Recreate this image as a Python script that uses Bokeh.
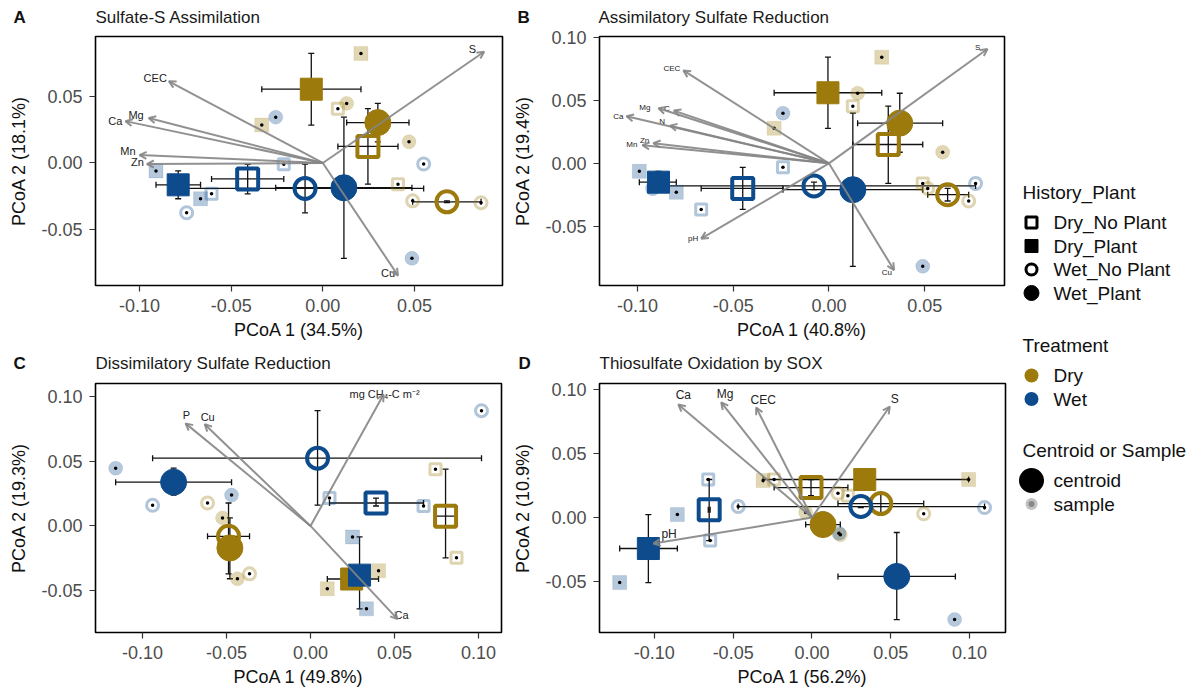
from bokeh.plotting import figure
from bokeh.models import (ColumnDataSource, Range1d, FixedTicker, PrintfTickFormatter,
                          Whisker, TeeHead, Arrow, OpenHead)
from bokeh.layouts import row, column
from bokeh.embed import file_html
from bokeh.resources import INLINE
from bokeh.core.properties import value

FONT = "Liberation Sans"
TRT_COLOR = {"Dry": "#9C7A0B", "Wet": "#0D4B8C"}
MARKER = {"Dry_No Plant": "square", "Dry_Plant": "square", "Wet_No Plant": "circle", "Wet_Plant": "circle"}
HOLLOW = {"Dry_No Plant": True, "Dry_Plant": False, "Wet_No Plant": True, "Wet_Plant": False}
ARROW_COL = "#858585"

# ---------------- Panel titles ----------------
PANEL_LETTERS = ["A", "B", "C", "D"]
PANEL_TITLES = ["Sulfate-S Assimilation", "Assimilatory Sulfate Reduction",
                "Dissimilatory Sulfate Reduction", "Thiosulfate Oxidation by SOX"]

# ---------------- Panel A : Sulfate-S Assimilation ----------------
A_cent_group = ["Dry_No Plant", "Dry_Plant", "Wet_No Plant", "Wet_Plant",
                "Dry_No Plant", "Dry_Plant", "Wet_No Plant", "Wet_Plant"]
A_cent_trt = ["Dry", "Dry", "Dry", "Dry", "Wet", "Wet", "Wet", "Wet"]
A_cent_x = [0.0246, -0.0063, 0.0677, 0.0300, -0.0410, -0.0789, -0.0097, 0.0115]
A_cent_y = [0.0125, 0.0557, -0.0293, 0.0305, -0.0120, -0.0165, -0.0192, -0.0187]
A_cent_xlo = [0.0082, -0.0333, 0.0490, 0.0130, -0.0607, -0.0910, -0.0743, -0.0257]
A_cent_xhi = [0.0410, 0.0208, 0.0863, 0.0470, -0.0213, -0.0667, 0.0550, 0.0486]
A_cent_ylo = [-0.0160, 0.0286, -0.0300, 0.0160, -0.0233, -0.0270, -0.0376, -0.0720]
A_cent_yhi = [0.0410, 0.0827, -0.0286, 0.0450, -0.0010, -0.0060, -0.0008, 0.0346]
A_samp_group = ["Dry_No Plant", "Dry_No Plant", "Dry_Plant", "Dry_Plant", "Wet_No Plant", "Wet_No Plant",
                "Wet_Plant", "Wet_Plant", "Dry_No Plant", "Dry_No Plant", "Dry_Plant", "Dry_Plant",
                "Wet_No Plant", "Wet_No Plant", "Wet_Plant", "Wet_Plant"]
A_samp_trt = ["Dry"] * 8 + ["Wet"] * 8
A_samp_x = [0.0082, 0.0410, -0.0333, 0.0208, 0.0490, 0.0863, 0.0130, 0.0470,
            -0.0213, -0.0607, -0.0910, -0.0667, -0.0743, 0.0550, -0.0257, 0.0486]
A_samp_y = [0.0410, -0.0160, 0.0286, 0.0827, -0.0286, -0.0300, 0.0450, 0.0160,
            -0.0010, -0.0233, -0.0060, -0.0270, -0.0376, -0.0008, 0.0346, -0.0720]
A_arrow_label = ["CEC", "Ca", "Mg", "Mn", "Zn", "S", "Cu"]
A_arrow_x = [-0.0840, -0.1077, -0.0950, -0.1000, -0.0960, 0.0880, 0.0410]
A_arrow_y = [0.0617, 0.0316, 0.0340, 0.0060, -0.0008, 0.0840, -0.0850]

# ---------------- Panel B : Assimilatory Sulfate Reduction ----------------
B_cent_group = A_cent_group
B_cent_trt = A_cent_trt
B_cent_x = [0.0310, -0.0005, 0.0620, 0.0370, -0.0450, -0.0890, -0.0078, 0.0125]
B_cent_y = [0.0150, 0.0562, -0.0250, 0.0320, -0.0200, -0.0150, -0.0180, -0.0210]
B_cent_xlo = [0.0125, -0.0286, 0.0516, 0.0150, -0.0667, -0.0990, -0.0920, -0.0240]
B_cent_xhi = [0.0490, 0.0276, 0.0730, 0.0594, -0.0240, -0.0797, 0.0766, 0.0490]
B_cent_ylo = [-0.0160, 0.0279, -0.0300, 0.0088, -0.0367, -0.0231, -0.0210, -0.0820]
B_cent_yhi = [0.0455, 0.0845, -0.0200, 0.0558, -0.0032, -0.0064, -0.0150, 0.0399]
B_samp_group = A_samp_group
B_samp_trt = A_samp_trt
B_samp_x = [0.0125, 0.0490, -0.0286, 0.0276, 0.0516, 0.0730, 0.0150, 0.0594,
            -0.0240, -0.0667, -0.0990, -0.0797, -0.0920, 0.0766, -0.0240, 0.0490]
B_samp_y = [0.0455, -0.0160, 0.0279, 0.0845, -0.0200, -0.0300, 0.0558, 0.0088,
            -0.0032, -0.0367, -0.0064, -0.0231, -0.0200, -0.0160, 0.0399, -0.0820]
B_arrow_label = ["CEC", "Ca", "Mg", "C", "N", "Mn", "Zn", "pH", "S", "Cu"]
B_arrow_x = [-0.0760, -0.1057, -0.0890, -0.0810, -0.0830, -0.0974, -0.0917, -0.0667, 0.0828, 0.0340]
B_arrow_y = [0.0740, 0.0375, 0.0439, 0.0420, 0.0300, 0.0144, 0.0160, -0.0600, 0.0910, -0.0850]

# ---------------- Panel C : Dissimilatory Sulfate Reduction ----------------
C_cent_group = A_cent_group
C_cent_trt = A_cent_trt
C_cent_x = [0.0804, 0.0245, -0.0488, -0.0480, 0.0390, 0.0292, 0.0042, -0.0815]
C_cent_y = [0.0075, -0.0410, -0.0080, -0.0170, 0.0177, -0.0380, 0.0523, 0.0338]
C_cent_xlo = [0.0744, 0.0100, -0.0613, -0.0524, 0.0113, 0.0250, -0.0940, -0.1160]
C_cent_xhi = [0.0869, 0.0405, -0.0363, -0.0435, 0.0673, 0.0333, 0.1018, -0.0470]
C_cent_ylo = [-0.0246, -0.0485, -0.0370, -0.0408, 0.0154, -0.0640, 0.0160, 0.0238]
C_cent_yhi = [0.0438, -0.0346, 0.0177, 0.0062, 0.0215, -0.0085, 0.0890, 0.0446]
C_samp_group = A_samp_group
C_samp_trt = A_samp_trt
C_samp_x = [0.0744, 0.0869, 0.0100, 0.0405, -0.0613, -0.0363, -0.0524, -0.0435,
            0.0113, 0.0673, 0.0250, 0.0333, -0.0940, 0.1018, -0.1160, -0.0470]
C_samp_y = [0.0438, -0.0246, -0.0485, -0.0346, 0.0177, -0.0370, 0.0062, -0.0408,
            0.0215, 0.0154, -0.0085, -0.0640, 0.0160, 0.0890, 0.0446, 0.0238]
C_arrow_label = ["P", "Cu", "mg CH\u2084-C m\u207b\u00b2", "Ca"]
C_arrow_x = [-0.0744, -0.0630, 0.0435, 0.0518]
C_arrow_y = [0.0792, 0.0785, 0.1015, -0.0720]

# ---------------- Panel D : Thiosulfate Oxidation by SOX ----------------
D_cent_group = A_cent_group
D_cent_trt = A_cent_trt
D_cent_x = [-0.0006, 0.0335, 0.0437, 0.0070, -0.0652, -0.1038, 0.0310, 0.0538]
D_cent_y = [0.0234, 0.0297, 0.0109, -0.0055, 0.0060, -0.0242, 0.0086, -0.0460]
D_cent_xlo = [-0.0240, -0.0310, 0.0165, -0.0040, -0.0658, -0.1220, -0.0468, 0.0165]
D_cent_xhi = [0.0228, 0.0994, 0.0709, 0.0180, -0.0646, -0.0854, 0.1095, 0.0910]
D_cent_ylo = [0.0170, 0.0289, 0.0030, -0.0135, -0.0180, -0.0508, 0.0078, -0.0797]
D_cent_yhi = [0.0297, 0.0297, 0.0190, 0.0040, 0.0297, 0.0023, 0.0086, -0.0117]
D_samp_group = A_samp_group
D_samp_trt = A_samp_trt
D_samp_x = [-0.0240, 0.0228, -0.0310, 0.0994, 0.0165, 0.0709, -0.0040, 0.0180,
            -0.0658, -0.0646, -0.1220, -0.0854, -0.0468, 0.1095, 0.0905, 0.0171]
D_samp_y = [0.0297, 0.0170, 0.0289, 0.0297, 0.0190, 0.0030, 0.0040, -0.0135,
            0.0297, -0.0180, -0.0508, 0.0023, 0.0086, 0.0078, -0.0797, -0.0123]
D_arrow_label = ["Ca", "Mg", "CEC", "pH", "S"]
D_arrow_x = [-0.0848, -0.0576, -0.0354, -0.1006, 0.0494]
D_arrow_y = [0.0883, 0.0900, 0.0860, -0.0203, 0.0867]

# tick positions
A_xticks = [-0.10, -0.05, 0.00, 0.05]
A_yticks = [-0.05, 0.00, 0.05]
B_xticks = [-0.10, -0.05, 0.00, 0.05]
B_yticks = [-0.05, 0.00, 0.05, 0.10]
C_xticks = [-0.10, -0.05, 0.00, 0.05, 0.10]
C_yticks = [-0.05, 0.00, 0.05, 0.10]
D_xticks = [-0.10, -0.05, 0.00, 0.05, 0.10]
D_yticks = [-0.05, 0.00, 0.05, 0.10]

# legend entries
LEG_HIST = ["Dry_No Plant", "Dry_Plant", "Wet_No Plant", "Wet_Plant"]
LEG_TRT = ["Dry", "Wet"]
LEG_CS = ["centroid", "sample"]

# ---- label placement styles (align, dx, dy in px) ----
A_lab_style = [("right", -2, -3), ("right", -3, 0), ("right", -5, -3), ("right", -4, -4),
               ("right", -3, -2), ("right", -8, -3), ("right", -3, -3)]
B_lab_style = [("right", -3, -2), ("right", -3, 0), ("right", -8, -1), ("right", -4, -2),
               ("right", -5, -4), ("right", -5, -1), ("right", -4, -3), ("right", -3, 0),
               ("right", -7, -2), ("right", -2, 2)]
C_lab_style = [("center", 1, -8), ("center", 3, -7), ("center", 1, -1), ("center", 4, -4)]
D_lab_style = [("center", 5, -9), ("center", 4, -8), ("center", 7, -7), ("left", 8, -10),
               ("left", 1, -8)]


def make_panel(xlab, ylab, xr, yr, xticks, yticks,
               cg, ct, cx, cy, cxlo, cxhi, cylo, cyhi,
               sg, st, sx, sy, alab, ax, ay, lab_style, arrow_fs,
               width, height, borders):
    left, right, top, bottom = borders
    p = figure(width=width, height=height, x_range=Range1d(*xr), y_range=Range1d(*yr),
               output_backend="svg", toolbar_location=None,
               min_border_left=left, min_border_right=right, min_border_top=top,
               min_border_bottom=bottom)
    p.grid.visible = False
    p.outline_line_color = "black"
    p.outline_line_width = 1.6
    p.background_fill_color = "white"
    p.border_fill_color = "white"
    for ax_, ticks in ((p.xaxis[0], xticks), (p.yaxis[0], yticks)):
        ax_.ticker = FixedTicker(ticks=ticks)
        ax_.formatter = PrintfTickFormatter(format="%.2f")
        ax_.axis_line_color = None
        ax_.major_tick_line_color = "#333333"
        ax_.major_tick_line_width = 1.2
        ax_.major_tick_out = 6
        ax_.major_tick_in = 0
        ax_.minor_tick_line_color = None
        ax_.major_label_text_font = FONT
        ax_.major_label_text_font_size = "18px"
        ax_.major_label_text_color = "#4d4d4d"
        ax_.major_label_standoff = 7
        ax_.axis_label_text_font = FONT
        ax_.axis_label_text_font_size = "18px"
        ax_.axis_label_text_font_style = "normal"
        ax_.axis_label_text_color = "#111111"
    p.xaxis.axis_label = xlab
    p.yaxis.axis_label = ylab
    p.xaxis.axis_label_standoff = 5
    p.yaxis.axis_label_standoff = 9

    # error bars
    ebar = ColumnDataSource(dict(x=cx, y=cy, xlo=cxlo, xhi=cxhi, ylo=cylo, yhi=cyhi))
    for dim, base, lo, hi in (("width", "y", "xlo", "xhi"), ("height", "x", "ylo", "yhi")):
        w = Whisker(source=ebar, base=base, lower=lo, upper=hi, dimension=dim,
                    line_color="#111111", line_width=1.3, level="underlay",
                    lower_head=TeeHead(size=6, line_color="#111111", line_width=1.3),
                    upper_head=TeeHead(size=6, line_color="#111111", line_width=1.3))
        p.add_layout(w)

    # samples
    for hollow in (False, True):
        idx = [i for i in range(len(sx)) if HOLLOW[sg[i]] == hollow]
        src = ColumnDataSource(dict(
            x=[sx[i] for i in idx], y=[sy[i] for i in idx],
            marker=[MARKER[sg[i]] for i in idx],
            color=[TRT_COLOR[st[i]] for i in idx],
            size=[11 if MARKER[sg[i]] == "square" else 12 for i in idx]))
        if hollow:
            p.scatter("x", "y", source=src, marker="marker", size="size", fill_color=None,
                      line_color="color", line_alpha=0.32, line_width=3)
        else:
            p.scatter("x", "y", source=src, marker="marker", size=14, fill_color="color",
                      fill_alpha=0.3, line_color="color", line_alpha=0.12, line_width=1)
    p.scatter(sx, sy, marker="circle", size=3.5, fill_color="black", line_color=None)

    # centroids
    for i in range(len(cx)):
        g = cg[i]
        col = TRT_COLOR[ct[i]]
        if HOLLOW[g]:
            p.scatter([cx[i]], [cy[i]], marker=MARKER[g], size=21, fill_color=None,
                      line_color=col, line_width=4)
        else:
            p.scatter([cx[i]], [cy[i]], marker=MARKER[g],
                      size=22 if MARKER[g] == "square" else 26,
                      fill_color=col, line_color=col, line_width=1)

    # environmental arrows
    asrc = ColumnDataSource(dict(x0=[0.0] * len(ax), y0=[0.0] * len(ay), x1=ax, y1=ay))
    p.add_layout(Arrow(source=asrc, x_start="x0", y_start="y0", x_end="x1", y_end="y1",
                       line_color=ARROW_COL, line_width=2, line_alpha=0.9,
                       end=OpenHead(size=7, line_color=ARROW_COL, line_width=2, line_alpha=0.9)))
    for lab, xv, yv, (al, dx, dy) in zip(alab, ax, ay, lab_style):
        p.text([xv], [yv], text=[lab], text_font=value(FONT), text_font_size=arrow_fs,
               text_color="#222222", text_align=al, text_baseline="middle",
               x_offset=dx, y_offset=dy)
    return p


def make_header(width, height, y_top, letter_x, title_x, letters, titles, y_mid):
    h = figure(width=width, height=height, x_range=Range1d(0, width),
               y_range=Range1d(y_top + height, y_top), output_backend="svg",
               toolbar_location=None, min_border=0)
    h.axis.visible = False
    h.grid.visible = False
    h.outline_line_color = None
    h.text(letter_x, [y_mid] * len(letters), text=letters, text_font=value(FONT),
           text_font_size="17px", text_font_style="bold", text_color="#111111",
           text_baseline="middle")
    h.text(title_x, [y_mid] * len(titles), text=titles, text_font=value(FONT),
           text_font_size="17px", text_color="#1a1a1a", text_baseline="middle")
    return h


# layout: header rows of 26 / 30 px, panel rows below them
pA = make_panel("PCoA 1 (34.5%)", "PCoA 2 (18.1%)",
                (-0.124, 0.098), (-0.0925, 0.0955), A_xticks, A_yticks,
                A_cent_group, A_cent_trt, A_cent_x, A_cent_y, A_cent_xlo, A_cent_xhi, A_cent_ylo, A_cent_yhi,
                A_samp_group, A_samp_trt, A_samp_x, A_samp_y,
                A_arrow_label, A_arrow_x, A_arrow_y, A_lab_style, "11px",
                510, 319, (95, 8, 9, 60))
pB = make_panel("PCoA 1 (40.8%)", "PCoA 2 (19.4%)",
                (-0.1198, 0.0917), (-0.0973, 0.101), B_xticks, B_yticks,
                B_cent_group, B_cent_trt, B_cent_x, B_cent_y, B_cent_xlo, B_cent_xhi, B_cent_ylo, B_cent_yhi,
                B_samp_group, B_samp_trt, B_samp_x, B_samp_y,
                B_arrow_label, B_arrow_x, B_arrow_y, B_lab_style, "8px",
                505, 319, (88, 11, 10, 60))
pC = make_panel("PCoA 1 (49.8%)", "PCoA 2 (19.3%)",
                (-0.128, 0.1137), (-0.0823, 0.110), C_xticks, C_yticks,
                C_cent_group, C_cent_trt, C_cent_x, C_cent_y, C_cent_xlo, C_cent_xhi, C_cent_ylo, C_cent_yhi,
                C_samp_group, C_samp_trt, C_samp_x, C_samp_y,
                C_arrow_label, C_arrow_x, C_arrow_y, C_lab_style, "11px",
                510, 315, (95, 9, 7, 58))
pD = make_panel("PCoA 1 (56.2%)", "PCoA 2 (10.9%)",
                (-0.1348, 0.1228), (-0.0898, 0.1047), D_xticks, D_yticks,
                D_cent_group, D_cent_trt, D_cent_x, D_cent_y, D_cent_xlo, D_cent_xhi, D_cent_ylo, D_cent_yhi,
                D_samp_group, D_samp_trt, D_samp_x, D_samp_y,
                D_arrow_label, D_arrow_x, D_arrow_y, D_lab_style, "12px",
                505, 315, (88, 10, 8, 58))

hdr1 = make_header(1015, 26, 0, [13, 517], [95, 598], PANEL_LETTERS[:2], PANEL_TITLES[:2], 17)
hdr2 = make_header(1015, 30, 345, [13, 518], [95, 599], PANEL_LETTERS[2:], PANEL_TITLES[2:], 363)

# ---------------- legend panel (pixel coordinate space) ----------------
leg = figure(width=175, height=690, x_range=Range1d(1015, 1190), y_range=Range1d(690, 0),
             output_backend="svg", toolbar_location=None, min_border=0)
leg.axis.visible = False
leg.grid.visible = False
leg.outline_line_color = None

TITLE_X, SYM_X, TXT_X = 1022, 1031, 1053
sections = [("History_Plant", 192, LEG_HIST), ("Treatment", 345, LEG_TRT),
            ("Centroid or Sample", 450, LEG_CS)]
for title, ty, items in sections:
    leg.text([TITLE_X], [ty], text=[title], text_font=value(FONT), text_font_size="19px",
             text_color="#111111", text_baseline="middle")
    ys = [ty + 30 + 23.5 * k for k in range(len(items))]
    leg.text([TXT_X] * len(items), ys, text=items, text_font=value(FONT),
             text_font_size="19px", text_color="#111111", text_baseline="middle")
    for name, yy in zip(items, ys):
        if name in MARKER:
            if HOLLOW[name]:
                leg.scatter([SYM_X], [yy], marker=MARKER[name], size=11, fill_color=None,
                            line_color="black", line_width=3)
            else:
                leg.scatter([SYM_X], [yy], marker=MARKER[name], size=13 if MARKER[name] == "square" else 15,
                            fill_color="black", line_color="black")
        elif name in TRT_COLOR:
            leg.scatter([SYM_X], [yy], marker="circle", size=14, fill_color=TRT_COLOR[name],
                        line_color=None)
        elif name == "centroid":
            leg.scatter([SYM_X], [yy], marker="circle", size=25, fill_color="black", line_color=None)
        else:
            leg.scatter([SYM_X], [yy], marker="circle", size=12, fill_color="#9a9a9a",
                        fill_alpha=0.6, line_color=None)
            leg.scatter([SYM_X], [yy], marker="circle", size=6, fill_color="#888888",
                        line_color=None)

layout = row(column(hdr1, row(pA, pB), hdr2, row(pC, pD)), leg)
open("out.html", "w").write(file_html(layout, INLINE))
